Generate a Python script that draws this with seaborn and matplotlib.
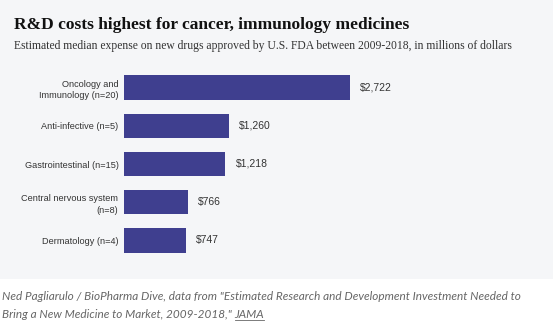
import matplotlib
matplotlib.use("Agg")
import matplotlib.pyplot as plt
import seaborn as sns
import pandas as pd
from matplotlib.patches import Rectangle

categories = ["Oncology and\nImmunology (n=20)", "Anti-infective (n=5)",
              "Gastrointestinal (n=15)", "Central nervous system\n(n=8)",
              "Dermatology (n=4)"]
values = [2722, 1260, 1218, 766, 747]
value_labels = ["$2,722", "$1,260", "$1,218", "$766", "$747"]

df = pd.DataFrame({"category": categories, "value": values})

W, H = 553, 329
fig = plt.figure(figsize=(W / 100, H / 100), dpi=100, facecolor="white")
bg = "#f5f6f8"
fig.patches.append(Rectangle((0, 1 - 279 / H), 1, 279 / H, transform=fig.transFigure,
                             facecolor=bg, edgecolor="none", zorder=-10))

# axes: x from 124 to 540 px, y from 68 to 260 px
left, right = 124, 540
top, bottom = 68, 260
ax = fig.add_axes([left / W, 1 - bottom / H, (right - left) / W, (bottom - top) / H])
ax.set_facecolor("none")
ax.set_zorder(2)

sns.barplot(data=df, y="category", x="value", orient="h", color="#3f3f8f",
            width=0.65, saturation=1, ax=ax)

xmax = 2722 * (right - left) / 226
ax.set_xlim(0, xmax)
ax.set_ylim(4.5 + 0.02, -0.5 - 0.02)

for i, (v, lab) in enumerate(zip(values, value_labels)):
    ax.annotate(lab, (v, i), xytext=(7.5, 0), textcoords="offset points",
                va="center", ha="left", fontsize=7.5, color="#333333",
                family="Liberation Sans")

ax.set_xlabel("")
ax.set_ylabel("")
ax.set_xticks([])
ax.tick_params(axis="y", length=0, pad=4, labelsize=6.6, labelcolor="#333333")
for t in ax.get_yticklabels():
    t.set_family("Liberation Sans")
    t.set_horizontalalignment("right")
    t.set_multialignment("right")
    t.set_linespacing(1.35)
for s in ax.spines.values():
    s.set_visible(False)

fig.text(14 / W, 1 - 25 / H, "R&D costs highest for cancer, immunology medicines",
         fontsize=12.5, fontweight="bold", family="Liberation Serif", color="#111111",
         va="center", ha="left")
fig.text(14 / W, 1 - 46 / H,
         "Estimated median expense on new drugs approved by U.S. FDA between 2009-2018, in millions of dollars",
         fontsize=8.35, family="Liberation Serif", color="#333333", va="center", ha="left")

fig.text(2 / W, 1 - 297 / H,
         "Ned Pagliarulo / BioPharma Dive, data from \"Estimated Research and Development Investment Needed to",
         fontsize=8.45, style="italic", family="Lato", color="#666666", va="center", ha="left")
t2 = fig.text(2 / W, 1 - 314 / H,
              "Bring a New Medicine to Market, 2009-2018,\" ",
              fontsize=8.45, style="italic", family="Lato", color="#666666", va="center", ha="left")
fig.canvas.draw()
bb = t2.get_window_extent()
x_end = bb.x1 / (W)
jama = fig.text(x_end, 1 - 314 / H, "JAMA", fontsize=8.45, style="italic", family="Lato",
                color="#666666", va="center", ha="left")
fig.canvas.draw()
jt = jama.get_window_extent()
fig.add_artist(plt.Line2D([jt.x0 / W, jt.x1 / W], [(jt.y0 - 0.5) / H, (jt.y0 - 0.5) / H],
                          transform=fig.transFigure, color="#666666", lw=0.6))

fig.savefig("out.png", dpi=100, facecolor="white")
